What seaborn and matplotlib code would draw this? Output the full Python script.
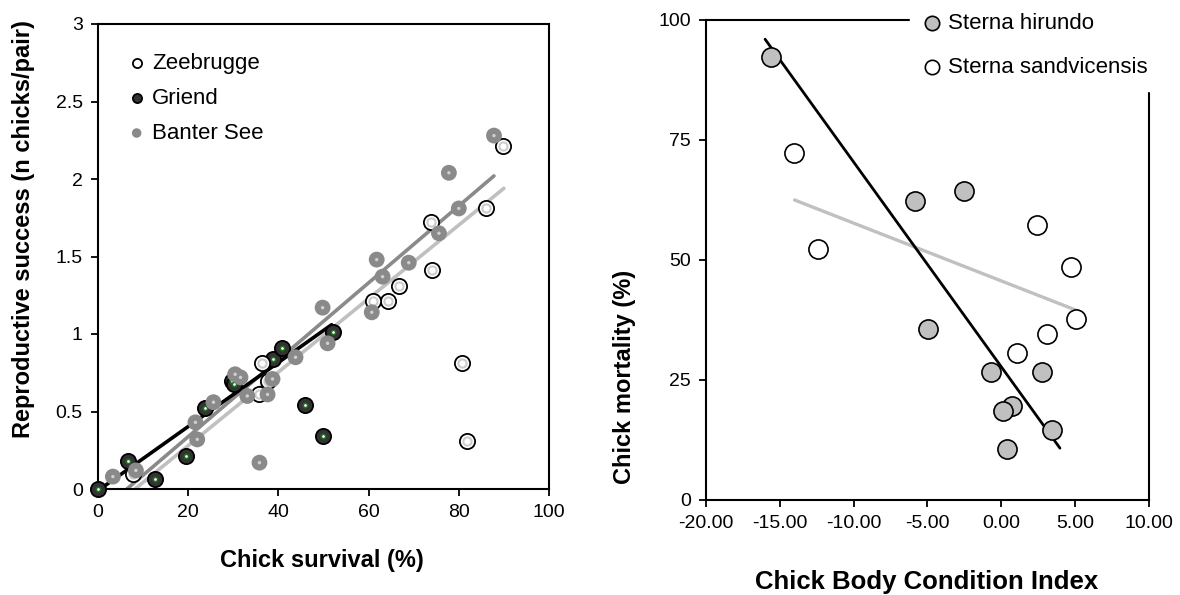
import numpy as np
import pandas as pd
import seaborn as sns
import matplotlib.pyplot as plt
from matplotlib.ticker import StrMethodFormatter

# left panel: chick survival vs reproductive success
zee_x = [89.8, 86.0, 73.8, 74.0, 66.7, 64.4, 60.9, 80.7, 81.8, 36.4, 35.6, 37.6, 7.8]
zee_y = [2.21, 1.81, 1.72, 1.41, 1.31, 1.21, 1.21, 0.81, 0.31, 0.81, 0.61, 0.70, 0.10]
gri_x = [0.0, 6.7, 12.7, 19.6, 23.8, 29.8, 30.2, 38.7, 40.9, 52.0, 45.8, 49.8]
gri_y = [0.0, 0.18, 0.065, 0.21, 0.52, 0.70, 0.68, 0.84, 0.91, 1.01, 0.54, 0.34]
ban_x = [3.3, 8.4, 21.6, 22.0, 25.6, 30.4, 31.6, 33.1, 37.6, 38.7, 43.8, 35.8,
         49.8, 50.9, 60.7, 61.8, 63.1, 68.9, 75.6, 80.0, 77.8, 87.8]
ban_y = [0.08, 0.12, 0.43, 0.32, 0.56, 0.74, 0.72, 0.60, 0.61, 0.71, 0.85, 0.17,
         1.17, 0.94, 1.14, 1.48, 1.37, 1.46, 1.65, 1.81, 2.04, 2.28]

# fitted lines (end points)
zee_fit_x, zee_fit_y = [8.2, 90.0], [0.0, 1.94]
gri_fit_x, gri_fit_y = [0.5, 51.8], [0.0, 1.06]
ban_fit_x, ban_fit_y = [6.4, 87.8], [0.0, 2.02]

# right panel: body condition vs mortality
hir_x = [-15.6, -5.85, -2.53, -4.97, -0.70, 0.72, 0.11, 2.75, 3.43, 0.38]
hir_y = [92.3, 62.3, 64.4, 35.6, 26.7, 19.6, 18.5, 26.7, 14.6, 10.6]
san_x = [-14.04, -12.42, 2.41, 4.71, 5.05, 3.09, 1.06]
san_y = [72.3, 52.3, 57.3, 48.5, 37.7, 34.6, 30.6]
hir_fit_x, hir_fit_y = [-16.0, 3.97], [96.0, 10.8]
san_fit_x, san_fit_y = [-14.0, 5.1], [62.5, 39.5]

sns.set_theme(style="ticks")
plt.rcParams['font.family'] = ['Liberation Sans', 'DejaVu Sans']
plt.rcParams['axes.unicode_minus'] = False
plt.rcParams['text.color'] = 'black'
plt.rcParams['axes.labelcolor'] = 'black'
plt.rcParams['axes.linewidth'] = 1.5
plt.rcParams['xtick.major.width'] = 1.3
plt.rcParams['ytick.major.width'] = 1.3
plt.rcParams['xtick.major.size'] = 5
plt.rcParams['ytick.major.size'] = 5
plt.rcParams['xtick.color'] = 'black'
plt.rcParams['ytick.color'] = 'black'
plt.rcParams['xtick.labelcolor'] = 'black'
plt.rcParams['ytick.labelcolor'] = 'black'
plt.rcParams['axes.edgecolor'] = 'black'

fig = plt.figure(figsize=(11.8, 5.95), dpi=100)
W, H = 1180, 595
ax1 = fig.add_axes([98 / W, 1 - 489 / H, (549 - 98) / W, (489 - 24) / H])
ax2 = fig.add_axes([706 / W, 1 - 500 / H, (1149 - 706) / W, (500 - 20) / H])

# ---- left panel
sns.lineplot(x=zee_fit_x, y=zee_fit_y, color='#c0c0c0', lw=2.6, ax=ax1, zorder=2)
sns.lineplot(x=ban_fit_x, y=ban_fit_y, color='#8a8a8a', lw=2.6, ax=ax1, zorder=2)
sns.lineplot(x=gri_fit_x, y=gri_fit_y, color='black', lw=2.6, ax=ax1, zorder=2)

sns.scatterplot(x=gri_x, y=gri_y, s=120, color='#333333', edgecolor='black',
                linewidth=1.3, ax=ax1, label='Griend', zorder=3, clip_on=False)
sns.scatterplot(x=gri_x, y=gri_y, s=10, color='white', edgecolor='#1f6b1f',
                linewidth=1.2, ax=ax1, zorder=3, clip_on=False)
sns.scatterplot(x=zee_x, y=zee_y, s=120, color='white', edgecolor='black',
                linewidth=1.3, ax=ax1, label='Zeebrugge', zorder=4)
sns.scatterplot(x=zee_x, y=zee_y, s=35, color='white', edgecolor='#cccccc',
                linewidth=1.5, ax=ax1, zorder=4)
sns.scatterplot(x=ban_x, y=ban_y, s=130, color='#8a8a8a', edgecolor='none',
                ax=ax1, label='Banter See', zorder=5)
sns.scatterplot(x=ban_x, y=ban_y, s=6, color='#cfcfcf', edgecolor='none',
                ax=ax1, zorder=5)

ax1.set_xlim(0, 100)
ax1.set_ylim(0, 3)
ax1.set_xticks(np.arange(0, 101, 20))
ax1.set_yticks(np.arange(0, 3.01, 0.5))
ax1.yaxis.set_major_formatter(StrMethodFormatter('{x:g}'))
ax1.tick_params(labelsize=14, pad=6)
ax1.set_xlabel('Chick survival (%)', fontsize=17, fontweight='bold')
ax1.set_ylabel('Reproductive success (n chicks/pair)', fontsize=17, fontweight='bold')
ax1.xaxis.set_label_coords(0.497, -0.128)
ax1.yaxis.set_label_coords(-0.14, 0.56)

h, l = ax1.get_legend_handles_labels()
order = [l.index('Zeebrugge'), l.index('Griend'), l.index('Banter See')]
leg1 = ax1.legend([h[i] for i in order], [l[i] for i in order], loc='upper left',
                  bbox_to_anchor=(0.066, 0.937), borderaxespad=0, borderpad=0,
                  frameon=False, fontsize=16, markerscale=0.6, handlelength=0.8,
                  handletextpad=0.3, labelspacing=0.62)

# ---- right panel
sns.lineplot(x=san_fit_x, y=san_fit_y, color='#c0c0c0', lw=2.4, ax=ax2, zorder=2)
sns.lineplot(x=hir_fit_x, y=hir_fit_y, color='black', lw=2.0, ax=ax2, zorder=2)
sns.scatterplot(x=hir_x, y=hir_y, s=190, color='#c0c0c0', edgecolor='black',
                linewidth=1.2, ax=ax2, label='Sterna hirundo', zorder=3)
sns.scatterplot(x=san_x, y=san_y, s=190, color='white', edgecolor='black',
                linewidth=1.2, ax=ax2, label='Sterna sandvicensis', zorder=3)

ax2.set_xlim(-20, 10)
ax2.set_ylim(0, 100)
ax2.set_xticks(np.arange(-20, 10.01, 5))
ax2.set_yticks(np.arange(0, 101, 25))
ax2.xaxis.set_major_formatter(StrMethodFormatter('{x:.2f}'))
ax2.tick_params(labelsize=14, pad=6)
ax2.set_xlabel('Chick Body Condition Index', fontsize=18.5, fontweight='bold')
ax2.set_ylabel('Chick mortality (%)', fontsize=17, fontweight='bold')
ax2.xaxis.set_label_coords(0.497, -0.146)
ax2.yaxis.set_label_coords(-0.158, 0.256)

leg2 = ax2.legend(loc='upper left', bbox_to_anchor=(0.4605, 1.042), borderaxespad=0,
                  borderpad=0.6, frameon=True, fancybox=False, framealpha=1,
                  facecolor='white', edgecolor='white', fontsize=16,
                  markerscale=0.75, handlelength=0.8, handletextpad=0.3,
                  labelspacing=1.02)
leg2.set_zorder(10)

fig.savefig('out.png', dpi=100)
